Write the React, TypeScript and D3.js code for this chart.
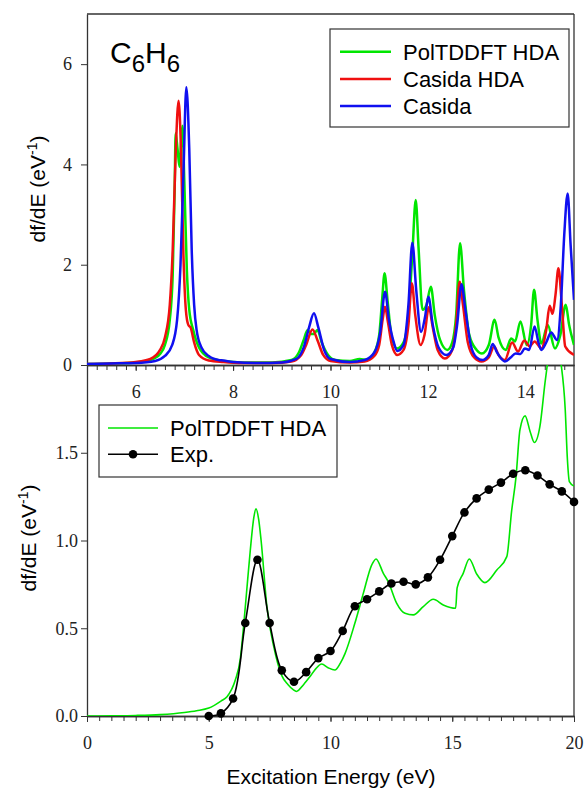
import React, { useRef, useEffect } from 'react';
import * as d3 from 'd3';

const W = 585;
const H = 789;

// top panel spectra, [energy (eV), df/dE]
const polHdaTop: [number, number][] = [
  [5.0, 0.02], [5.5, 0.03], [6.0, 0.05], [6.3, 0.1], [6.5, 0.22], [6.6, 0.4], [6.7, 0.9],
  [6.76, 1.8], [6.8, 3.5], [6.82, 4.62], [6.86, 4.3], [6.9, 3.95], [6.93, 4.4], [6.96, 4.77],
  [7.0, 3.6], [7.05, 1.9], [7.1, 1.1], [7.18, 0.7], [7.3, 0.35], [7.5, 0.15], [7.8, 0.08],
  [8.2, 0.05], [8.8, 0.05], [9.2, 0.1], [9.35, 0.25], [9.45, 0.5], [9.53, 0.7], [9.6, 0.62],
  [9.66, 0.62], [9.73, 0.7], [9.82, 0.45], [9.95, 0.2], [10.1, 0.1], [10.4, 0.08], [10.6, 0.12],
  [10.75, 0.1], [10.9, 0.25], [11.0, 0.6], [11.06, 1.3], [11.11, 1.83], [11.17, 1.3],
  [11.25, 0.6], [11.37, 0.33], [11.5, 0.45], [11.6, 1.0], [11.68, 2.2], [11.75, 3.29],
  [11.81, 2.3], [11.89, 1.1], [11.97, 1.2], [12.06, 1.56], [12.14, 1.0], [12.25, 0.5],
  [12.4, 0.3], [12.5, 0.45], [12.58, 1.0], [12.66, 2.43], [12.74, 1.5], [12.85, 0.6],
  [13.0, 0.3], [13.11, 0.23], [13.25, 0.4], [13.37, 0.9], [13.45, 0.55], [13.6, 0.3],
  [13.71, 0.53], [13.79, 0.47], [13.9, 0.87], [14.03, 0.4], [14.12, 0.8], [14.18, 1.5],
  [14.25, 0.9], [14.33, 0.43], [14.46, 0.8], [14.61, 0.33], [14.72, 0.6], [14.83, 1.2],
  [14.9, 0.8], [15.0, 0.4],
];

const casidaHdaTop: [number, number][] = [
  [5.0, 0.02], [5.5, 0.03], [6.0, 0.06], [6.3, 0.12], [6.5, 0.3], [6.6, 0.55], [6.7, 1.2],
  [6.76, 2.3], [6.82, 4.2], [6.88, 5.27], [6.93, 4.3], [6.98, 2.2], [7.03, 1.1], [7.08, 0.8],
  [7.13, 0.74], [7.2, 0.45], [7.3, 0.2], [7.5, 0.09], [7.8, 0.06], [8.2, 0.04], [8.8, 0.04],
  [9.2, 0.07], [9.4, 0.2], [9.5, 0.4], [9.63, 0.71], [9.73, 0.5], [9.85, 0.2], [10.0, 0.08],
  [10.4, 0.05], [10.7, 0.07], [10.9, 0.18], [11.0, 0.4], [11.07, 0.9], [11.12, 1.16],
  [11.18, 0.85], [11.26, 0.4], [11.37, 0.2], [11.5, 0.3], [11.6, 0.8], [11.67, 1.63],
  [11.74, 1.0], [11.85, 0.4], [11.93, 0.6], [12.02, 1.15], [12.1, 0.75], [12.2, 0.3],
  [12.35, 0.13], [12.5, 0.3], [12.58, 0.8], [12.65, 1.66], [12.72, 1.2], [12.82, 0.45],
  [12.95, 0.15], [13.1, 0.07], [13.25, 0.15], [13.36, 0.37], [13.45, 0.2], [13.58, 0.1],
  [13.73, 0.45], [13.85, 0.27], [13.98, 0.49], [14.09, 0.37], [14.19, 0.47], [14.33, 0.33],
  [14.43, 0.7], [14.5, 1.18], [14.56, 1.02], [14.62, 1.4], [14.68, 1.93], [14.75, 1.2],
  [14.82, 0.37], [15.0, 0.2],
];

const casidaTop: [number, number][] = [
  [5.0, 0.02], [5.5, 0.03], [6.0, 0.04], [6.4, 0.08], [6.6, 0.18], [6.75, 0.4], [6.85, 0.9],
  [6.92, 2.0], [6.98, 3.8], [7.04, 5.54], [7.1, 4.3], [7.15, 2.3], [7.2, 1.2], [7.25, 0.7],
  [7.35, 0.35], [7.5, 0.18], [7.7, 0.1], [7.8, 0.09], [8.0, 0.06], [8.5, 0.04], [9.0, 0.05],
  [9.3, 0.12], [9.45, 0.35], [9.56, 0.75], [9.66, 1.03], [9.75, 0.75], [9.87, 0.3],
  [10.0, 0.12], [10.4, 0.06], [10.7, 0.1], [10.9, 0.25], [11.02, 0.65], [11.12, 1.46],
  [11.2, 0.9], [11.3, 0.45], [11.37, 0.28], [11.5, 0.4], [11.6, 1.2], [11.68, 2.44],
  [11.76, 1.5], [11.86, 0.66], [11.94, 0.95], [12.01, 1.36], [12.1, 0.8], [12.22, 0.35],
  [12.38, 0.2], [12.52, 0.35], [12.6, 0.8], [12.69, 1.61], [12.77, 1.1], [12.88, 0.4],
  [13.0, 0.15], [13.12, 0.1], [13.25, 0.2], [13.33, 0.42], [13.42, 0.25], [13.58, 0.07],
  [13.7, 0.15], [13.8, 0.23], [13.9, 0.22], [13.99, 0.33], [14.08, 0.3], [14.19, 0.77],
  [14.27, 0.45], [14.33, 0.3], [14.43, 0.45], [14.53, 0.65], [14.65, 0.5], [14.73, 1.2],
  [14.8, 2.6], [14.87, 3.42], [14.93, 2.4], [15.0, 1.3],
];

// bottom panel, broadened PolTDDFT HDA
const polHdaBottom: [number, number][] = [
  [0, 0.0], [1, 0.001], [2, 0.003], [3, 0.008], [4, 0.02], [4.5, 0.03], [5, 0.045],
  [5.5, 0.085], [5.75, 0.11], [6.09, 0.205], [6.3, 0.33], [6.43, 0.51], [6.6, 0.78],
  [6.71, 0.95], [6.85, 1.13], [6.94, 1.18], [7.05, 1.12], [7.15, 1.0], [7.39, 0.62],
  [7.67, 0.395], [8.0, 0.23], [8.25, 0.18], [8.47, 0.15], [8.6, 0.14], [8.9, 0.18],
  [9.16, 0.225], [9.4, 0.27], [9.64, 0.296], [9.9, 0.275], [10.18, 0.262], [10.4, 0.3],
  [10.6, 0.357], [11.0, 0.528], [11.35, 0.7], [11.69, 0.86], [11.87, 0.895], [12.17, 0.813],
  [12.37, 0.766], [12.72, 0.642], [13.06, 0.585], [13.4, 0.576], [13.81, 0.623],
  [14.22, 0.665], [14.63, 0.633], [15.14, 0.614], [15.2, 0.73], [15.45, 0.813], [15.7, 0.895],
  [16.0, 0.81], [16.34, 0.76], [16.83, 0.832], [17.24, 0.908], [17.44, 1.17], [17.62, 1.364],
  [17.78, 1.63], [17.99, 1.71], [18.2, 1.62], [18.37, 1.558], [18.6, 1.65], [18.81, 1.9],
  [18.95, 2.05], [19.2, 2.3], [19.43, 2.05], [19.64, 1.745], [19.73, 1.46], [19.81, 1.336],
  [20.0, 1.31],
];

// experiment
const expEnergy = [
  5, 5.5, 6, 6.5, 7, 7.5, 8, 8.5, 9, 9.5, 10, 10.5, 11, 11.5, 12, 12.5,
  13, 13.5, 14, 14.5, 15, 15.5, 16, 16.5, 17, 17.5, 18, 18.5, 19, 19.5, 20,
];
const expValues = [
  0.0, 0.015, 0.1, 0.53, 0.89, 0.53, 0.26, 0.195, 0.25, 0.33, 0.37, 0.485, 0.625, 0.665,
  0.71, 0.755, 0.765, 0.75, 0.79, 0.89, 1.025, 1.16, 1.24, 1.29, 1.33, 1.38, 1.4, 1.37,
  1.32, 1.28, 1.22,
];

const topXTicks = [6, 8, 10, 12, 14];
const topYTicks = [0, 2, 4, 6];
const bottomXTicks = [0, 5, 10, 15, 20];
const bottomYTicks = [0, 0.5, 1.0, 1.5];

const topLegend = ['PolTDDFT HDA', 'Casida HDA', 'Casida'];
const topColors = ['#00e600', '#f01010', '#1010f0'];
const bottomLegend = ['PolTDDFT HDA', 'Exp.'];

const SERIF = '"Liberation Serif", "Times New Roman", serif';
const SANS = '"Liberation Sans", Arial, sans-serif';
const AX = '#333';

const App = () => {
  const svgRef = useRef<SVGSVGElement>(null);

  useEffect(() => {
    const svg = d3.select(svgRef.current);
    svg.selectAll('*').remove();

    const left = 87, right = 574, top = 14, mid = 365, bottom = 716;

    const xTop = d3.scaleLinear().domain([5, 15]).range([left, right]);
    const yTop = d3.scaleLinear().domain([0, 7]).range([mid, top]);
    const xBot = d3.scaleLinear().domain([0, 20]).range([left, right]);
    const yBot = d3.scaleLinear().domain([0, 2]).range([bottom, mid]);

    const defs = svg.append('defs');
    defs.append('clipPath').attr('id', 'clipTop').append('rect')
      .attr('x', left).attr('y', top).attr('width', right - left).attr('height', mid - top);
    defs.append('clipPath').attr('id', 'clipBot').append('rect')
      .attr('x', left).attr('y', mid).attr('width', right - left).attr('height', bottom - mid);

    const styleAxis = (g: any) => {
      g.select('.domain').attr('stroke', AX).attr('stroke-width', 1.3);
      g.selectAll('.tick line').attr('stroke', AX).attr('stroke-width', 1);
      g.selectAll('text').attr('font-family', SERIF).attr('font-size', 18).attr('fill', '#222');
    };

    // top panel axes
    svg.append('g').attr('transform', `translate(0,${mid})`)
      .call(d3.axisBottom(xTop).tickValues(d3.range(5.2, 14.99, 0.2)).tickSize(5).tickSizeOuter(0).tickFormat(() => ''))
      .call(styleAxis);
    svg.append('g').attr('transform', `translate(0,${mid})`)
      .call(d3.axisBottom(xTop).tickValues(topXTicks).tickSize(6).tickSizeOuter(0).tickPadding(14).tickFormat(d3.format('d')))
      .call(styleAxis);
    svg.append('g').attr('transform', `translate(${left},0)`)
      .call(d3.axisLeft(yTop).tickValues(topYTicks).tickSize(6).tickSizeOuter(0).tickPadding(9).tickFormat(d3.format('d')))
      .call(styleAxis);

    // bottom panel axes
    svg.append('g').attr('transform', `translate(0,${bottom})`)
      .call(d3.axisBottom(xBot).tickValues(d3.range(0.5, 19.99, 0.5)).tickSize(5).tickSizeOuter(0).tickFormat(() => ''))
      .call(styleAxis);
    svg.append('g').attr('transform', `translate(0,${bottom})`)
      .call(d3.axisBottom(xBot).tickValues(bottomXTicks).tickSize(6).tickSizeOuter(0).tickPadding(14).tickFormat(d3.format('d')))
      .call(styleAxis);
    svg.append('g').attr('transform', `translate(${left},0)`)
      .call(d3.axisLeft(yBot).tickValues(bottomYTicks).tickSize(6).tickSizeOuter(0).tickPadding(3).tickFormat(d3.format('.1f')))
      .call(styleAxis);

    // frame
    svg.append('line').attr('x1', left).attr('x2', right).attr('y1', top).attr('y2', top)
      .attr('stroke', AX).attr('stroke-width', 1.3);
    svg.append('line').attr('x1', right).attr('x2', right).attr('y1', top).attr('y2', bottom)
      .attr('stroke', AX).attr('stroke-width', 1.3);

    // top spectra
    const lineTop = d3.line<[number, number]>()
      .x(d => xTop(d[0])).y(d => yTop(d[1])).curve(d3.curveMonotoneX);
    const topG = svg.append('g').attr('clip-path', 'url(#clipTop)');
    [polHdaTop, casidaHdaTop, casidaTop].forEach((s, i) => {
      topG.append('path').datum(s).attr('d', lineTop).attr('fill', 'none')
        .attr('stroke', topColors[i]).attr('stroke-width', 2.5).attr('stroke-linejoin', 'round');
    });

    // bottom spectra
    const lineBot = d3.line<[number, number]>()
      .x(d => xBot(d[0])).y(d => yBot(d[1])).curve(d3.curveMonotoneX);
    const botG = svg.append('g').attr('clip-path', 'url(#clipBot)');
    botG.append('path').datum(polHdaBottom).attr('d', lineBot).attr('fill', 'none')
      .attr('stroke', '#00e600').attr('stroke-width', 1.6);

    const expData: [number, number][] = expEnergy.map((e, i) => [e, expValues[i]]);
    const lineExp = d3.line<[number, number]>()
      .x(d => xBot(d[0])).y(d => yBot(d[1])).curve(d3.curveCatmullRom.alpha(0.5));
    svg.append('path').datum(expData).attr('d', lineExp).attr('fill', 'none')
      .attr('stroke', '#000').attr('stroke-width', 1.6);
    svg.selectAll('.exp-dot').data(expData).join('circle').attr('class', 'exp-dot')
      .attr('cx', d => xBot(d[0])).attr('cy', d => yBot(d[1])).attr('r', 4.3).attr('fill', '#000');

    // title
    const title = svg.append('text').attr('x', 110).attr('y', 63)
      .attr('font-family', SANS).attr('font-size', 30).attr('fill', '#000');
    title.append('tspan').text('C');
    title.append('tspan').attr('dy', 9).attr('font-size', 24).text('6');
    title.append('tspan').attr('dy', -9).text('H');
    title.append('tspan').attr('dy', 9).attr('font-size', 24).text('6');

    // y labels
    const yLabel = (cx: number, cy: number) => {
      const t = svg.append('text').attr('transform', `translate(${cx},${cy}) rotate(-90)`)
        .attr('text-anchor', 'middle').attr('dy', '0.35em')
        .attr('font-family', SANS).attr('font-size', 21).attr('fill', '#000');
      t.append('tspan').text('df/dE (eV');
      t.append('tspan').attr('dy', -8).attr('font-size', 14).text('-1');
      t.append('tspan').attr('dy', 8).text(')');
    };
    yLabel(38, 189);
    yLabel(29, 538);

    svg.append('text').attr('x', 331).attr('y', 784).attr('text-anchor', 'middle')
      .attr('font-family', SANS).attr('font-size', 21).attr('fill', '#000')
      .text('Excitation Energy (eV)');

    // top legend
    const lg = svg.append('g');
    lg.append('rect').attr('x', 330).attr('y', 29).attr('width', 239).attr('height', 98)
      .attr('fill', '#fff').attr('stroke', AX).attr('stroke-width', 1.2);
    topLegend.forEach((name, i) => {
      const y = 51.7 + i * 27.2;
      lg.append('line').attr('x1', 340).attr('x2', 391).attr('y1', y).attr('y2', y)
        .attr('stroke', topColors[i]).attr('stroke-width', 2.5);
      lg.append('text').attr('x', 403).attr('y', y).attr('dy', '0.36em')
        .attr('font-family', SANS).attr('font-size', 22).attr('fill', '#000').text(name);
    });

    // bottom legend
    const bl = svg.append('g');
    bl.append('rect').attr('x', 99).attr('y', 405).attr('width', 238).attr('height', 72)
      .attr('fill', '#fff').attr('stroke', AX).attr('stroke-width', 1.2);
    bottomLegend.forEach((name, i) => {
      const y = 428 + i * 26.3;
      bl.append('line').attr('x1', 108).attr('x2', 158).attr('y1', y).attr('y2', y)
        .attr('stroke', i === 0 ? '#00e600' : '#000').attr('stroke-width', 1.6);
      if (i === 1) bl.append('circle').attr('cx', 133).attr('cy', y).attr('r', 4.3).attr('fill', '#000');
      bl.append('text').attr('x', 170).attr('y', y).attr('dy', '0.36em')
        .attr('font-family', SANS).attr('font-size', 22).attr('fill', '#000').text(name);
    });
  }, []);

  return (
    <svg ref={svgRef} width={W} height={H}
      style={{ position: 'absolute', left: 0, top: 0, background: '#fff' }} />
  );
};

export default App;
